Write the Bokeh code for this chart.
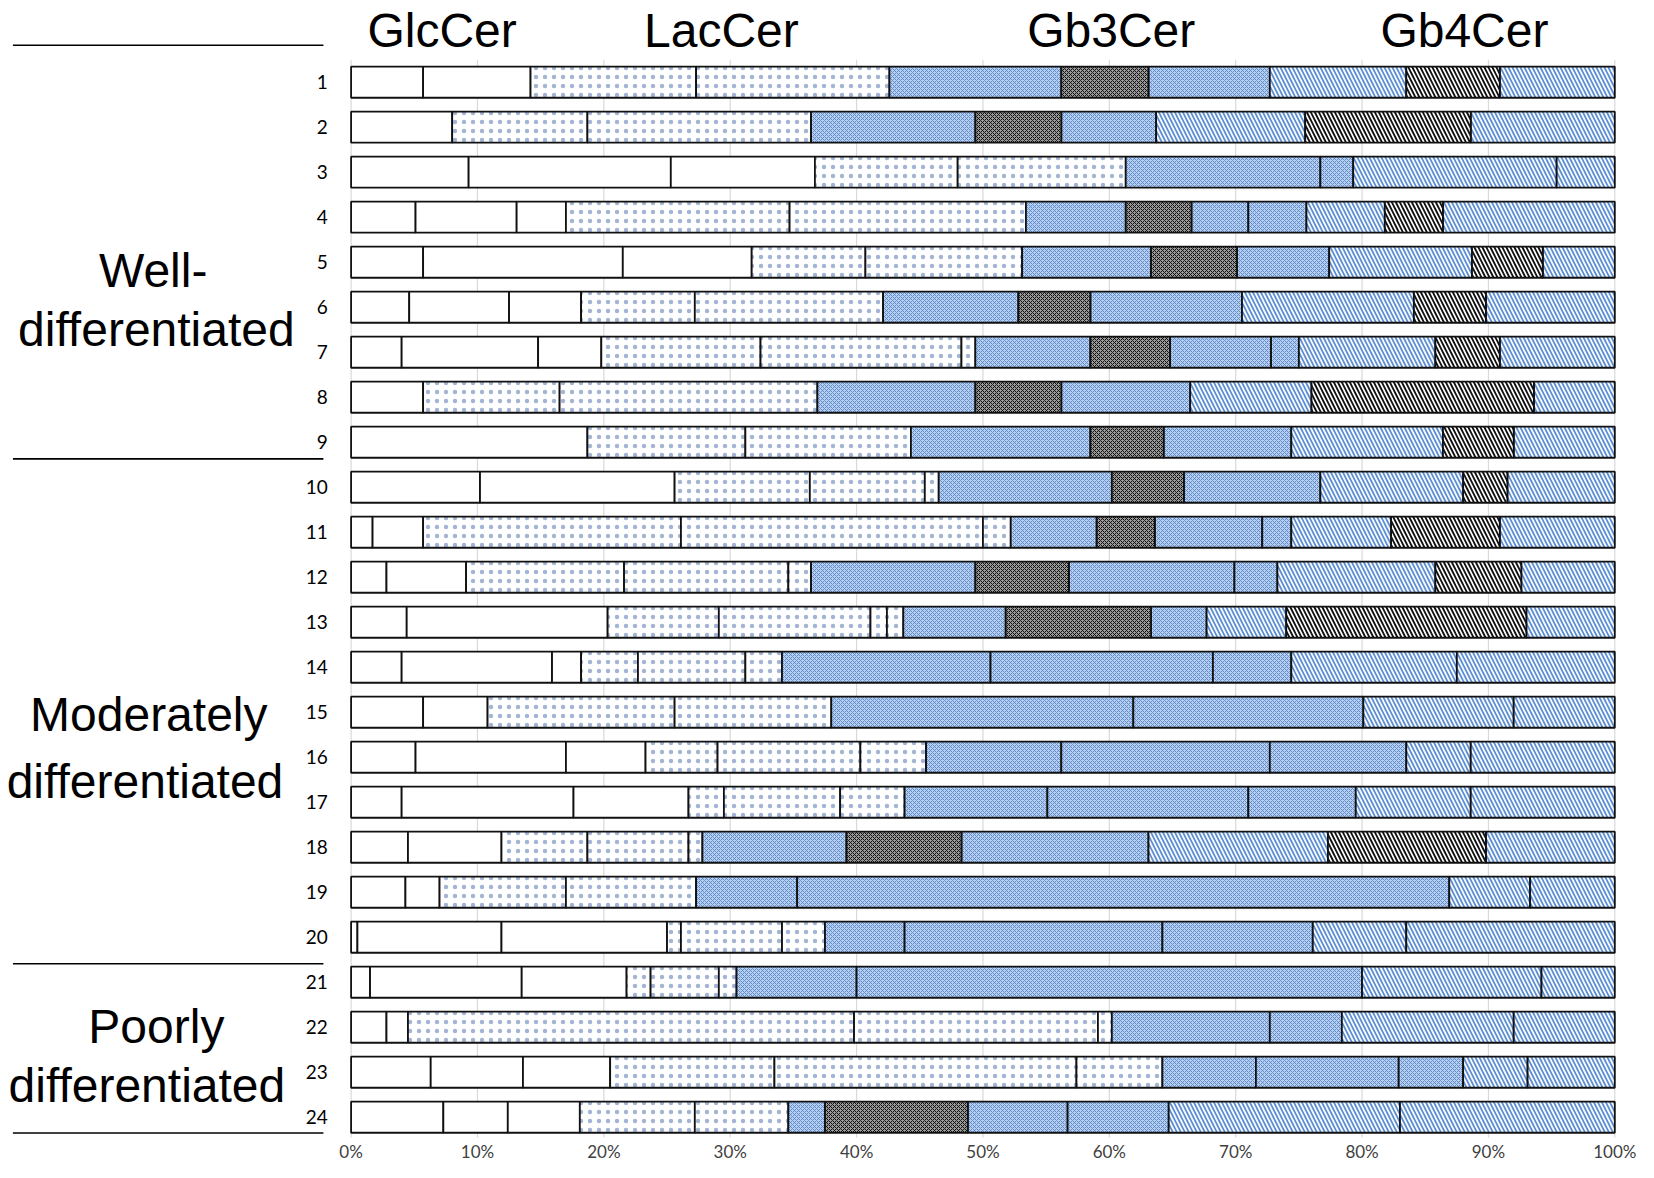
from bokeh.plotting import figure
from bokeh.models import ColumnDataSource, Range1d
from bokeh.embed import file_html
from bokeh.resources import INLINE
from bokeh.core.properties import value

# ---------------- data (percent of total, per species, left to right) ----------------
rows = list(range(1, 25))
row_labels = [str(r) for r in rows]

glccer = [
    [5.7, 8.5], [8.0], [9.3, 16.0, 11.4], [5.1, 8.0, 3.9], [5.7, 15.8, 10.2],
    [4.6, 7.9, 5.7], [4.0, 10.8, 5.0], [5.7], [18.7], [10.2, 15.4],
    [1.7, 4.0], [2.8, 6.3], [4.4, 15.9], [4.0, 11.9, 2.3], [5.7, 5.1],
    [5.1, 11.9, 6.3], [4.0, 13.6, 9.1], [4.5, 7.4], [4.3, 2.7], [0.5, 11.4, 13.1],
    [1.5, 12.0, 8.3], [2.8, 1.7], [6.3, 7.3, 6.9], [7.3, 5.1, 5.7],
]
laccer = [
    [13.1, 15.3], [10.7, 17.7], [11.3, 13.3], [17.7, 18.7], [9.0, 12.4],
    [9.0, 14.9], [12.6, 15.9, 1.1], [10.8, 20.4], [12.5, 13.1], [10.7, 9.1, 1.1],
    [20.4, 23.9, 2.2], [12.5, 13.0, 1.8], [8.8, 12.0, 1.3, 1.3], [4.5, 8.5, 2.9], [14.8, 12.4],
    [5.7, 11.3, 5.2], [2.8, 9.2, 5.1], [6.8, 8.0, 1.1], [10.0, 10.3], [1.1, 8.0, 3.4],
    [1.9, 5.4, 1.4], [35.3, 19.3, 1.1], [13.0, 23.9, 6.8], [9.1, 7.4],
]
# second entry of every Gb3Cer / Gb4Cer list is the dark-patterned species (0 = absent)
gb3cer = [
    [13.6, 6.9, 9.6], [13.0, 6.8, 7.5], [15.4, 0, 2.6], [7.9, 5.2, 4.5, 4.6], [10.2, 6.8, 7.3],
    [10.7, 5.7, 12.0], [9.1, 6.3, 8.0, 2.2], [12.5, 6.8, 10.2], [14.2, 5.8, 10.1], [13.7, 5.7, 10.8],
    [6.8, 4.6, 8.5, 2.3], [13.0, 7.4, 13.1, 3.4], [8.1, 11.5, 4.4], [16.5, 0, 17.6, 6.2], [23.9, 0, 18.2],
    [10.7, 0, 16.5, 10.8], [11.3, 0, 15.9, 8.5], [11.4, 9.1, 14.8], [8.0, 0, 51.6], [6.3, 0, 20.4, 11.9],
    [9.5, 0, 40.0], [12.5, 0, 5.7], [7.4, 0, 11.3, 5.1], [2.9, 11.3, 7.9, 8.0],
]
gb4cer = [
    [10.8, 7.4, 9.1], [11.8, 13.1, 11.4], [16.1, 0, 4.6], [6.2, 4.6, 13.6], [11.3, 5.6, 5.7],
    [13.6, 5.7, 10.2], [10.8, 5.1, 9.1], [9.6, 17.6, 6.4], [12.0, 5.6, 8.0], [11.3, 3.5, 8.5],
    [7.9, 8.6, 9.1], [12.5, 6.8, 7.4], [6.3, 19.0, 7.0], [13.1, 0, 12.5], [11.9, 0, 8.0],
    [5.1, 0, 11.4], [9.1, 0, 11.4], [14.2, 12.5, 10.2], [6.4, 0, 6.7], [7.4, 0, 16.5],
    [14.2, 0, 5.8], [13.6, 0, 8.0], [5.1, 0, 6.9], [18.3, 0, 17.0],
]
DARK = 1

headers = ["GlcCer", "LacCer", "Gb3Cer", "Gb4Cer"]
groups = ["Well-", "differentiated", "Moderately", "differentiated", "Poorly", "differentiated"]
ticks = [0, 10, 20, 30, 40, 50, 60, 70, 80, 90, 100]
tick_labels = [f"{t}%" for t in ticks]

# ---------------- layout constants ----------------
PX_PER_PCT = 12.637
ZERO_X = 350.6
FW, FH = 1638, 1162
X0 = -ZERO_X / PX_PER_PCT
X1 = X0 + FW / PX_PER_PCT
ROW_PX = 45.0
Y_TOP = 1 - 81.7 / ROW_PX
Y_BOT = Y_TOP + FH / ROW_PX

p = figure(frame_width=FW, frame_height=FH,
           x_range=Range1d(X0, X1), y_range=Range1d(Y_BOT, Y_TOP),
           x_axis_location=None, y_axis_location=None,
           output_backend="svg", toolbar_location=None, min_border=0)
p.outline_line_color = None
p.grid.visible = False
p.background_fill_color = "white"

# vertical grid lines
p.segment(x0=ticks, x1=ticks, y0=[0.5] * len(ticks), y1=[24.45] * len(ticks),
          line_color="#d9d9d9", line_width=1.2)

# x tick labels
p.text(x=ticks, y=[24.76] * len(ticks), text=tick_labels, text_align="center",
       text_baseline="middle", text_font=value("Lato"), text_font_size="17px",
       text_color="#404040")

# ---------------- bars ----------------
segs = {k: dict(y=[], left=[], right=[]) for k in ["glc", "lac", "gb3", "gb3d", "gb4", "gb4d"]}
for i, r in enumerate(rows):
    x = 0.0
    for key, table in (("glc", glccer), ("lac", laccer), ("gb3", gb3cer), ("gb4", gb4cer)):
        for j, w in enumerate(table[i]):
            if w <= 0:
                continue
            k = key + ("d" if key in ("gb3", "gb4") and j == DARK else "")
            segs[k]["y"].append(r)
            segs[k]["left"].append(x)
            segs[k]["right"].append(min(x + w, 100.0))
            x += w

styles = {
    "glc": dict(fill_color="white"),
    "lac": dict(fill_color="white", hatch_pattern="dot", hatch_color="#5a78b0",
                hatch_scale=9, hatch_weight=0.3, hatch_alpha=0.55),
    "gb3": dict(fill_color="#b8d0f0", hatch_pattern="diagonal_cross", hatch_color="#5886ca",
                hatch_scale=4, hatch_weight=0.9),
    "gb3d": dict(fill_color="#9a9a9a", hatch_pattern="diagonal_cross", hatch_color="#111111",
                 hatch_scale=4, hatch_weight=1.0),
    "gb4": dict(fill_color="#f6f9fd", hatch_pattern="left_diagonal_line", hatch_color="#5b8bd0",
                hatch_scale=8, hatch_weight=1.7),
    "gb4d": dict(fill_color="white", hatch_pattern="left_diagonal_line", hatch_color="#111111",
                 hatch_scale=8, hatch_weight=1.9),
}
for k in ["glc", "lac", "gb3", "gb3d", "gb4", "gb4d"]:
    src = ColumnDataSource(segs[k])
    p.hbar(y="y", left="left", right="right", height=0.69, source=src,
           line_color="#111111", line_width=1.8, **styles[k])

# ---------------- texts ----------------
p.text(x=[-1.85] * len(rows), y=rows, text=row_labels, text_align="right",
       text_baseline="middle", text_font=value("Lato"), text_font_size="19px",
       text_color="black")

p.text(x=[7.2, 29.3, 60.15, 88.1], y=[-0.15] * 4, text=headers, text_align="center",
       text_baseline="alphabetic", text_font=value("Liberation Sans"),
       text_font_size="48px", text_color="black")

p.text(x=[-15.66, -15.41, -16.01, -16.31, -15.41, -16.16],
       y=[5.18, 6.49, 15.06, 16.54, 21.99, 23.30], text=groups,
       text_align="center", text_baseline="alphabetic",
       text_font=value("Liberation Sans"), text_font_size="48px", text_color="black")

sep_y = [0.18, 9.37, 20.59, 24.35]
p.segment(x0=[-26.76] * 4, x1=[-2.19] * 4, y0=sep_y, y1=sep_y,
          line_color="black", line_width=1.6)

open("out.html", "w").write(file_html(p, INLINE))
